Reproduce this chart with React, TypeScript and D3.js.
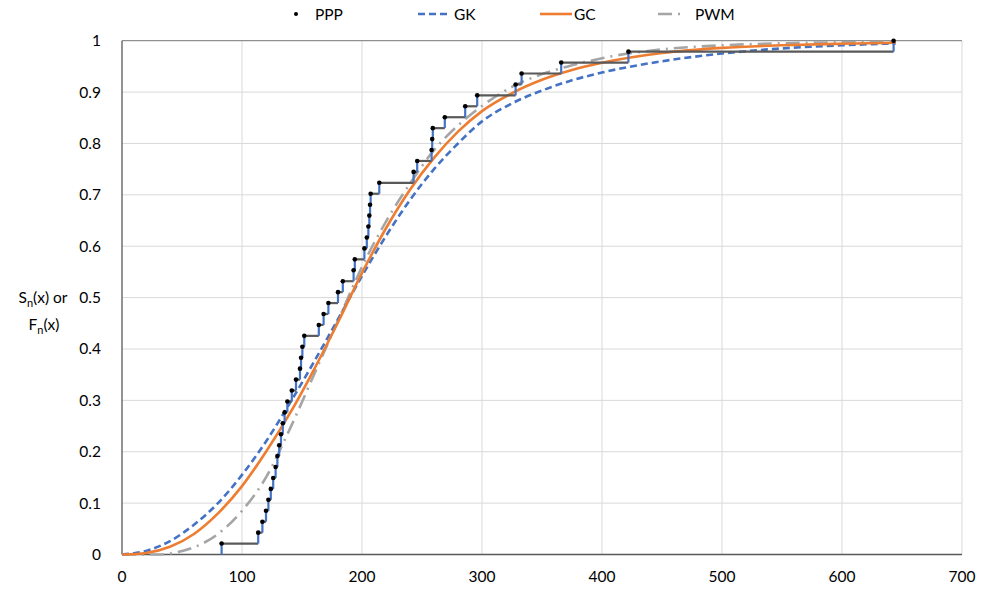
import React from "react";
import { scaleLinear, line, curveMonotoneX } from "d3";

// sample values (x where the empirical step k/n starts), n = 47
const pppX = [
  83, 113.5, 117, 120, 122, 124, 126, 128, 129.5, 131, 132.5, 134, 135.5, 137.8,
  141.5, 145, 148.3, 149.2, 150.3, 151.9, 164, 168, 172, 180, 184, 193, 194,
  202, 204, 205.3, 206.1, 206.7, 207.2, 214.4, 243, 246, 258, 258.5, 259, 269,
  286, 296, 328, 333, 366, 422, 643,
];

// fitted CDFs
const gkCurve = [
  [0, 0], [20, 0.007], [40, 0.026], [60, 0.058], [80, 0.1], [100, 0.155],
  [120, 0.22], [140, 0.295], [160, 0.375], [180, 0.458], [200, 0.542],
  [220, 0.62], [240, 0.69], [260, 0.75], [280, 0.8], [300, 0.843],
  [325, 0.878], [350, 0.903], [375, 0.923], [400, 0.938], [450, 0.96],
  [500, 0.975], [550, 0.985], [600, 0.991], [645, 0.995],
];
const gcCurve = [
  [0, 0], [20, 0.003], [40, 0.015], [60, 0.04], [80, 0.08], [100, 0.133],
  [120, 0.2], [140, 0.275], [160, 0.36], [180, 0.452], [200, 0.548],
  [220, 0.635], [240, 0.71], [260, 0.772], [280, 0.823], [300, 0.863],
  [325, 0.898], [350, 0.924], [375, 0.943], [400, 0.957], [450, 0.976],
  [500, 0.986], [550, 0.991], [600, 0.994], [645, 0.996],
];
const pwmCurve = [
  [0, 0], [30, 0], [45, 0.004], [60, 0.014], [80, 0.04], [100, 0.085],
  [120, 0.15], [140, 0.245], [160, 0.35], [180, 0.455], [200, 0.56],
  [220, 0.648], [240, 0.722], [260, 0.787], [280, 0.835], [300, 0.873],
  [325, 0.91], [350, 0.935], [375, 0.952], [400, 0.966], [450, 0.983],
  [500, 0.991], [550, 0.995], [600, 0.997], [645, 0.998],
];

const xTicks = [0, 100, 200, 300, 400, 500, 600, 700];
const yTicks = [0, 0.1, 0.2, 0.3, 0.4, 0.5, 0.6, 0.7, 0.8, 0.9, 1];

const W = 984;
const H = 600;
const left = 122;
const right = 962;
const top = 40.7;
const bottom = 554.5;
const font = "Lato, 'Open Sans', sans-serif";

export default function App() {
  const x = scaleLinear().domain([0, 700]).range([left, right]);
  const y = scaleLinear().domain([0, 1]).range([bottom, top]);
  const n = pppX.length;

  const curve = line<number[]>()
    .x((d) => x(d[0]))
    .y((d) => y(d[1]))
    .curve(curveMonotoneX);

  // empirical step function: horizontal treads and vertical risers
  const treads = pppX.slice(0, n - 1).map((v, i) => ({
    x1: x(v),
    x2: x(pppX[i + 1]),
    y: y((i + 1) / n),
  }));
  const risers = pppX.map((v, i) => ({
    x: x(v),
    y1: y(i / n),
    y2: y((i + 1) / n),
  }));

  return (
    <svg
      width={W}
      height={H}
      style={{ position: "absolute", left: 0, top: 0, background: "#fff" }}
      fontFamily={font}
    >
      {/* grid */}
      {xTicks.slice(1).map((t) => (
        <line key={"gx" + t} x1={x(t)} x2={x(t)} y1={top} y2={bottom} stroke="#d9d9d9" strokeWidth={1} />
      ))}
      {yTicks.slice(1).map((t) => (
        <line key={"gy" + t} x1={left} x2={right} y1={y(t)} y2={y(t)} stroke={t === 1 ? "#777" : "#d9d9d9"} strokeWidth={1} />
      ))}
      {/* axes */}
      <line x1={left} x2={left} y1={top} y2={bottom} stroke="#595959" strokeWidth={1.3} />
      <line x1={left} x2={right} y1={bottom} y2={bottom} stroke="#595959" strokeWidth={1.3} />

      {yTicks.map((t) => (
        <text key={"ty" + t} x={101} y={y(t) + 5.5} textAnchor="end" fontSize={15.5} fill="#000">
          {t}
        </text>
      ))}
      {xTicks.map((t) => (
        <text key={"tx" + t} x={x(t)} y={582} textAnchor="middle" fontSize={15.5} fill="#000">
          {t}
        </text>
      ))}

      {/* y label */}
      <text x={43} y={303} textAnchor="middle" fontSize={15.5}>
        S<tspan fontSize={11} dy={4}>n</tspan>
        <tspan dy={-4}>(x) or</tspan>
      </text>
      <text x={44} y={330} textAnchor="middle" fontSize={15.5}>
        F<tspan fontSize={11} dy={4}>n</tspan>
        <tspan dy={-4}>(x)</tspan>
      </text>

      {/* fitted curves */}
      <path d={curve(pwmCurve) ?? ""} fill="none" stroke="#a5a5a5" strokeWidth={2.6} strokeDasharray="14 6 2 6" />
      <path d={curve(gkCurve) ?? ""} fill="none" stroke="#4472c4" strokeWidth={2.6} strokeDasharray="7 4" />
      <path d={curve(gcCurve) ?? ""} fill="none" stroke="#ed7d31" strokeWidth={2.6} />

      {/* empirical */}
      {treads.map((s, i) => (
        <line key={"h" + i} x1={s.x1} x2={s.x2} y1={s.y} y2={s.y} stroke="#595959" strokeWidth={2.2} />
      ))}
      {risers.map((s, i) => (
        <line key={"v" + i} x1={s.x} x2={s.x} y1={s.y1} y2={s.y2} stroke="#4472c4" strokeWidth={2.2} />
      ))}
      {pppX.map((v, i) => (
        <circle key={"p" + i} cx={x(v)} cy={y((i + 1) / n)} r={2.3} fill="#000" />
      ))}

      {/* legend */}
      <g fontSize={15.5}>
        <circle cx={296} cy={14} r={2} fill="#000" />
        <text x={315} y={19.5}>PPP</text>
        <line x1={418} x2={450} y1={14} y2={14} stroke="#4472c4" strokeWidth={2.6} strokeDasharray="7 4" />
        <text x={454} y={19.5}>GK</text>
        <line x1={540} x2={572} y1={14} y2={14} stroke="#ed7d31" strokeWidth={2.6} />
        <text x={574} y={19.5}>GC</text>
        <line x1={658} x2={682} y1={14} y2={14} stroke="#a5a5a5" strokeWidth={2.6} strokeDasharray="14 6 2 6" />
        <text x={695} y={19.5}>PWM</text>
      </g>
    </svg>
  );
}
